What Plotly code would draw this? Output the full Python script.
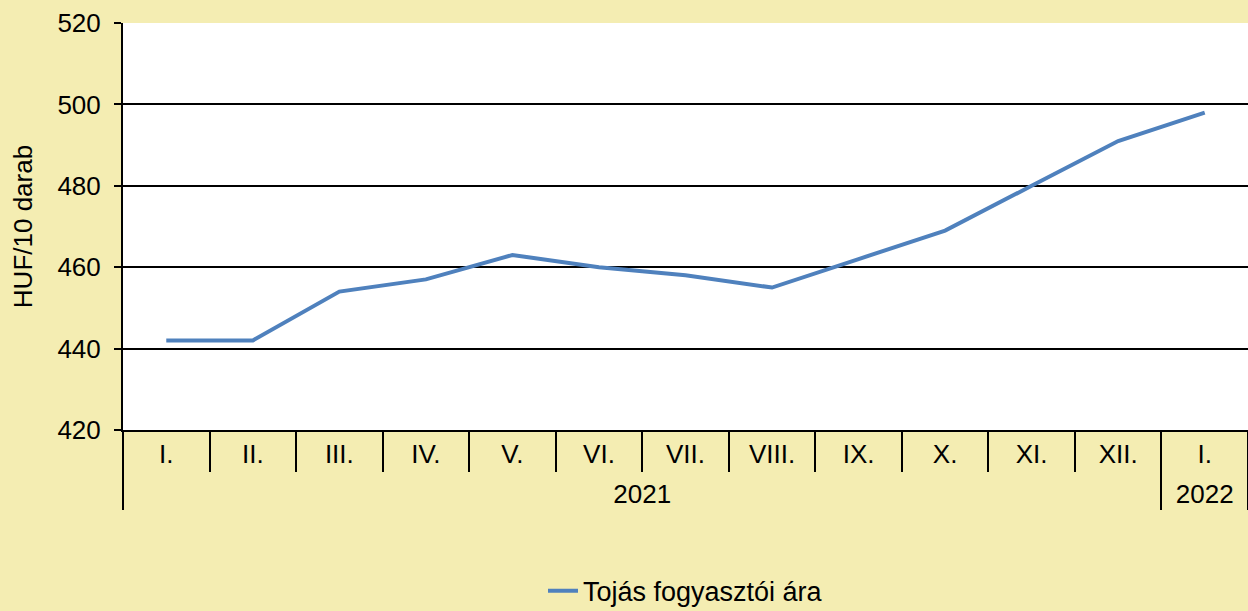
import plotly.graph_objects as go

# Egg consumer price, HUF / 10 pcs
years = ['2021'] * 12 + ['2022']
months = ['I.', 'II.', 'III.', 'IV.', 'V.', 'VI.', 'VII.', 'VIII.', 'IX.', 'X.', 'XI.', 'XII.', 'I.']
prices = [442, 442, 454, 457, 463, 460, 458, 455, 462, 469, 480, 491, 498]
y_ticks = [420, 440, 460, 480, 500, 520]

# invisible padding around month labels pushes the year row a bit lower
pad = "<span style='font-size:34px'>&nbsp;</span>"
month_labels = [pad + m + pad for m in months]

fig = go.Figure()
fig.add_trace(go.Scatter(x=[years, month_labels], y=prices, mode='lines',
                         line=dict(color='#4F81BD', width=4),
                         name='Tojás fogyasztói ára'))

fig.update_xaxes(type='multicategory', range=[-0.5, 12.5],
                 showline=True, linecolor='black', linewidth=2,
                 ticks='outside', tickson='boundaries', ticklen=40, tickwidth=2, tickcolor='black',
                 showdividers=True, dividercolor='black', dividerwidth=2,
                 showgrid=False, tickfont=dict(size=26, color='black'))
fig.update_yaxes(range=[420, 520], tickvals=y_ticks, showgrid=True, gridcolor='black', gridwidth=2,
                 showline=True, linecolor='black', linewidth=2, ticks='outside', ticklen=7,
                 tickwidth=2, tickcolor='black', zeroline=False, ticklabelstandoff=8,
                 tickfont=dict(size=26, color='black'),
                 title=dict(text='HUF/10 darab', font=dict(size=26, color='black'), standoff=17))

fig.update_layout(width=1248, height=611, paper_bgcolor='#F4EDB2', plot_bgcolor='white',
                  font=dict(family='Liberation Sans, Arial', color='black'),
                  margin=dict(l=123, r=0, t=23, b=181, autoexpand=False),
                  showlegend=True,
                  legend=dict(orientation='h', x=0.5, xanchor='center', y=-0.456, yanchor='bottom',
                              font=dict(size=27), bgcolor='rgba(0,0,0,0)'))

fig.write_html("out.html", config={'displayModeBar': False},
               post_script="document.body.style.margin='0';")
